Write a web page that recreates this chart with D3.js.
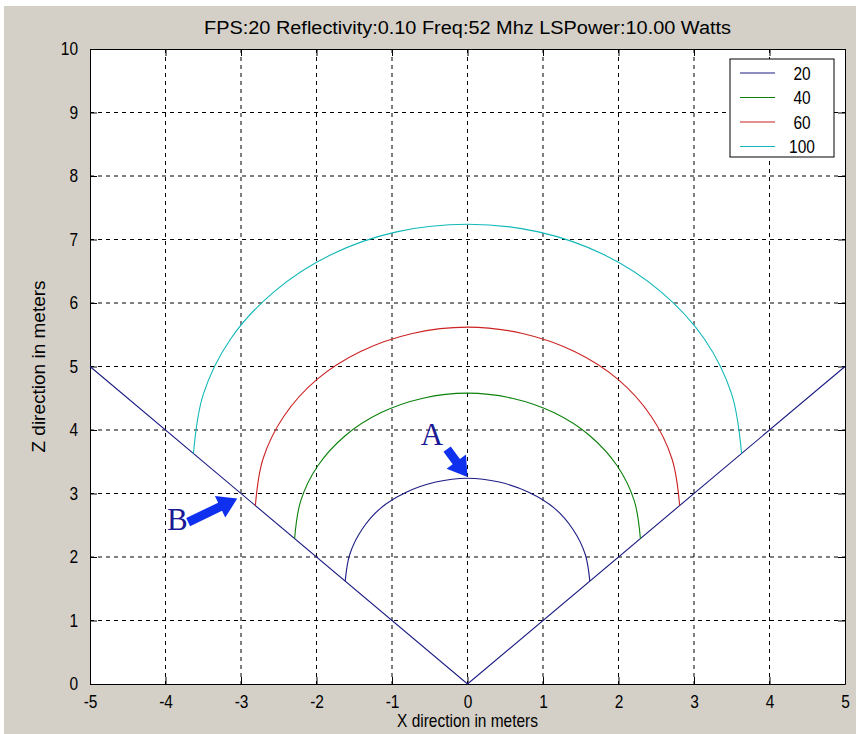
<!DOCTYPE html>
<html><head><meta charset="utf-8">
<script src="https://cdn.jsdelivr.net/npm/d3@7"></script>
<style>body{margin:0;background:#fff}svg{display:block}</style>
</head><body>
<script>
const title = "FPS:20 Reflectivity:0.10 Freq:52 Mhz LSPower:10.00 Watts";
const xTicks = [-5,-4,-3,-2,-1,0,1,2,3,4,5];
const yTicks = [0,1,2,3,4,5,6,7,8,9,10];
const seriesNames = ["20","40","60","100"];
const seriesColors = ["#1c1c84","#0a800a","#cc2222","#12b8b8"];
// curve points (x, z)
const curve20 = [[-1.62,1.62],[-1.56,2.04],[-1.40,2.43],[-1.15,2.77],[-0.81,3.02],[-0.42,3.18],[0,3.24],[0.42,3.18],[0.81,3.02],[1.15,2.77],[1.40,2.43],[1.56,2.04],[1.62,1.62]];
const curve40 = [[-2.29,2.29],[-2.21,2.88],[-1.98,3.44],[-1.62,3.91],[-1.15,4.27],[-0.59,4.50],[0,4.58],[0.59,4.50],[1.15,4.27],[1.62,3.91],[1.98,3.44],[2.21,2.88],[2.29,2.29]];
const curve60 = [[-2.81,2.81],[-2.71,3.54],[-2.43,4.22],[-1.99,4.80],[-1.41,5.24],[-0.73,5.52],[0,5.62],[0.73,5.52],[1.41,5.24],[1.99,4.80],[2.43,4.22],[2.71,3.54],[2.81,2.81]];
const curve100 = [[-3.63,3.63],[-3.50,4.56],[-3.14,5.43],[-2.56,6.18],[-1.81,6.76],[-0.94,7.12],[0,7.24],[0.94,7.12],[1.81,6.76],[2.56,6.18],[3.14,5.43],[3.50,4.56],[3.63,3.63]];
const vLine = [[-5,5],[0,0],[5,5]];
const annotA = {label:"A", x:-0.62, z:3.76};
const annotB = {label:"B", x:-3.98, z:2.42};

const W=856,H=734;
const L=90,R=845,T=49,B=684;
const svg=d3.select("body").append("svg").attr("width",W).attr("height",H);
svg.append("rect").attr("width",W).attr("height",H).attr("fill","#fff");
svg.append("rect").attr("x",4).attr("y",6).attr("width",W-4).attr("height",H-6).attr("fill","#d4d0c8");

const x=d3.scaleLinear().domain([-5,5]).range([L,R]);
const y=d3.scaleLinear().domain([0,10]).range([B,T]);

svg.append("rect").attr("x",L).attr("y",T).attr("width",R-L).attr("height",B-T).attr("fill","#fff");

const font="'Liberation Sans', Arial, sans-serif";
const SX=0.86; // horizontal condensing to mimic the narrow screen font
// grid
const g=svg.append("g");
g.selectAll(".gx").data(xTicks.slice(1,-1)).enter().append("line")
 .attr("x1",d=>x(d)).attr("x2",d=>x(d)).attr("y1",T).attr("y2",B)
 .attr("stroke","#000").attr("stroke-dasharray","4,4").attr("stroke-width",1);
g.selectAll(".gy").data(yTicks.slice(1,-1)).enter().append("line")
 .attr("y1",d=>y(d)).attr("y2",d=>y(d)).attr("x1",L).attr("x2",R)
 .attr("stroke","#000").attr("stroke-dasharray","4,4").attr("stroke-width",1);

// axes
const fmt=d=>String(d);
const axB=d3.axisBottom(x).tickValues(xTicks).tickFormat(fmt).tickSizeInner(-7).tickSizeOuter(0).tickPadding(11);
const axT=d3.axisTop(x).tickValues(xTicks).tickSizeInner(-7).tickSizeOuter(0).tickFormat("");
const axL=d3.axisLeft(y).tickValues(yTicks).tickFormat(fmt).tickSizeInner(-7).tickSizeOuter(0).tickPadding(12);
const axR=d3.axisRight(y).tickValues(yTicks).tickSizeInner(-7).tickSizeOuter(0).tickFormat("");
function style(sel){sel.selectAll("path").attr("stroke","#000");sel.selectAll("line").attr("stroke","#000");
 sel.selectAll("text").attr("font-family",font).attr("font-size",18).attr("fill","#000");}
const gB=svg.append("g").attr("transform",`translate(0,${B})`).call(axB); style(gB);
gB.selectAll(".tick text").attr("transform",`scale(${SX},1)`).attr("x",0);
style(svg.append("g").attr("transform",`translate(0,${T})`).call(axT));
const gL=svg.append("g").attr("transform",`translate(${L},0)`).call(axL); style(gL);
gL.selectAll(".tick text").attr("x",-12/SX).attr("transform",`scale(${SX},1)`);
style(svg.append("g").attr("transform",`translate(${R},0)`).call(axR));

const line=d3.line().x(d=>x(d[0])).y(d=>y(d[1]));
const sline=d3.line().x(d=>x(d[0])).y(d=>y(d[1])).curve(d3.curveCatmullRom);
svg.append("path").attr("d",line(vLine)).attr("fill","none").attr("stroke",seriesColors[0]).attr("stroke-width",1.1);
[curve20,curve40,curve60,curve100].forEach((c,i)=>{
 svg.append("path").attr("d",sline(c)).attr("fill","none").attr("stroke",seriesColors[i]).attr("stroke-width",1.1);
});

function ctext(px,py,str,size,anchor){
 return svg.append("text").attr("transform",`translate(${px},${py}) scale(${SX},1)`)
  .attr("text-anchor",anchor||"middle").attr("font-family",font).attr("font-size",size).attr("fill","#000").text(str);
}

// legend
const lg=svg.append("g");
lg.append("rect").attr("x",730).attr("y",59).attr("width",104).attr("height",98).attr("fill","#fff").attr("stroke","#000");
seriesNames.forEach((n,i)=>{
 const yy=73+i*24.5;
 lg.append("line").attr("x1",740).attr("x2",775).attr("y1",yy).attr("y2",yy).attr("stroke",seriesColors[i]).attr("stroke-width",1.1);
 ctext(802,yy+6.5,n,18);
});

// titles
svg.append("text").attr("x",(L+R)/2).attr("y",34).attr("text-anchor","middle").attr("font-family",font).attr("font-size",18)
 .attr("textLength",527).attr("lengthAdjust","spacingAndGlyphs").text(title);
ctext((L+R)/2,727,"X direction in meters",18);
svg.append("text").attr("transform",`translate(45,${(T+B)/2}) rotate(-90)`).attr("text-anchor","middle").attr("font-family",font).attr("font-size",19).text("Z direction in meters");

// annotations
const ann="#1a1a96", arrowCol="#1030f0";
svg.append("text").attr("x",x(annotA.x)).attr("y",y(annotA.z)).attr("font-family","'Liberation Serif', 'Times New Roman', serif").attr("font-size",31).attr("fill",ann).text(annotA.label);
svg.append("text").attr("x",x(annotB.x)).attr("y",y(annotB.z)).attr("font-family","'Liberation Serif', 'Times New Roman', serif").attr("font-size",31).attr("fill",ann).text(annotB.label);
function arrow(x1,y1,x2,y2){
 const dx=x2-x1,dy=y2-y1,len=Math.hypot(dx,dy),ux=dx/len,uy=dy/len,px=-uy,py=ux;
 const hl=19,hw=12,sw=4.5;
 const bx=x2-ux*hl,by=y2-uy*hl;
 const pts=[[x1+px*sw,y1+py*sw],[bx+px*sw,by+py*sw],[bx+px*hw,by+py*hw],[x2,y2],[bx-px*hw,by-py*hw],[bx-px*sw,by-py*sw],[x1-px*sw,y1-py*sw]];
 svg.append("path").attr("d","M"+pts.map(p=>p.join(",")).join("L")+"Z").attr("fill",arrowCol);
}
arrow(x(-0.27),y(3.7),x(0.0),y(3.26));
arrow(x(-3.7),y(2.55),x(-3.05),y(2.92));
</script>
</body></html>
